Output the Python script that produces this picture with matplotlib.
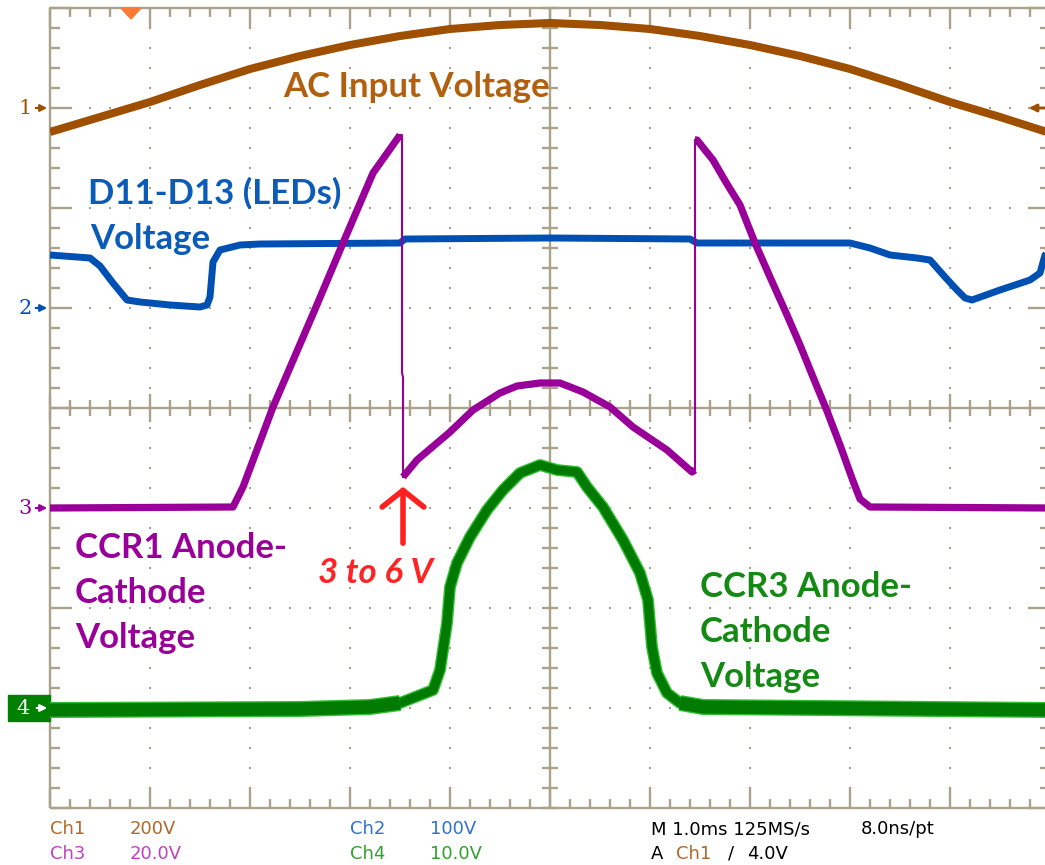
import numpy as np
import matplotlib
matplotlib.use("Agg")
import matplotlib.pyplot as plt
from matplotlib.patches import Rectangle, Polygon

# scope settings: 1.0 ms/div, 10 x 8 divisions
CH1_SCALE, CH1_POS = 200.0, 3.0   # V/div, ground marker in div
CH2_SCALE, CH2_POS = 100.0, 1.0
CH3_SCALE, CH3_POS = 20.0, -1.0
CH4_SCALE, CH4_POS = 10.0, -3.0

# Ch1 - AC input voltage (V)
ac_t = [0.0, 0.5, 1.0, 1.5, 2.0, 2.5, 3.0, 3.5, 4.0, 4.5, 5.0,
        5.5, 6.0, 6.5, 7.0, 7.5, 8.0, 8.5, 9.0, 9.5, 10.0]
ac_v = [-48, -18, 12, 46, 78, 104, 126, 144, 158, 166, 170,
        166, 158, 144, 126, 104, 78, 46, 12, -18, -50]

# Ch2 - LED string voltage (V)
led_t = [0.0, 0.4, 0.5, 0.63, 0.77, 0.9, 1.2, 1.5, 1.57, 1.6, 1.63, 1.7, 1.9,
         2.1, 3.5, 3.55, 5.0, 6.4, 6.47, 8.0, 8.2, 8.4, 8.67, 8.8, 8.95,
         9.07, 9.15, 9.22, 9.5, 9.8, 9.9, 9.95, 10.0]
led_v = [53, 50, 42, 25, 8, 6, 3, 1, 3, 11, 46, 58, 63,
         64, 65, 69, 70, 69, 65, 65, 60, 53, 50, 48, 31,
         18, 10, 8, 18, 28, 35, 53, 58]

# Ch3 - CCR1 anode-cathode voltage (V), split into its slow sections
rise_t = [0.0, 1.83, 1.93, 2.23, 2.66, 2.93, 3.23, 3.5]
rise_v = [0.0, 0.2, 4.2, 20.2, 40.2, 53.0, 67.0, 74.6]
drop_t = [3.5, 3.52, 3.52, 3.53, 3.53]
drop_v = [74.6, 74.6, 27.0, 26.2, 6.2]
arc_t = [3.53, 3.67, 4.0, 4.23, 4.5, 4.67, 4.9, 5.1,
         5.33, 5.6, 5.83, 6.17, 6.42, 6.45]
arc_v = [6.2, 9.6, 15.2, 19.6, 23.0, 24.4, 25.0, 25.0,
         23.2, 20.2, 16.2, 11.6, 7.2, 7.6]
fall_t = [6.45, 6.47, 6.63, 6.77, 6.9, 7.05, 7.2, 7.37, 7.5, 7.63,
          7.77, 7.9, 8.03, 8.1, 8.2, 10.0]
fall_v = [73.6, 73.6, 69.6, 64.8, 60.6, 53.0, 46.2, 38.6, 32.6, 26.2,
          19.4, 12.6, 5.4, 1.8, 0.2, 0.0]

# Ch4 - CCR3 anode-cathode voltage (V)
ccr3_t = [0.0, 2.5, 3.2, 3.5, 3.83, 3.9, 3.97, 4.0, 4.07, 4.2, 4.37, 4.53,
          4.7, 4.9, 5.07, 5.27, 5.37, 5.53, 5.73, 5.9, 5.98, 6.02, 6.07,
          6.17, 6.3, 6.53, 10.0]
ccr3_v = [-0.2, -0.1, 0.1, 0.5, 1.8, 3.8, 8.5, 12.1, 14.5, 17.1, 19.8, 21.8,
          23.5, 24.3, 23.8, 23.6, 22.1, 20.1, 16.8, 13.5, 10.8, 6.1, 3.5,
          1.5, 0.5, 0.1, -0.2]

BROWN = "#9e4f00"
BLUE = "#0050b4"
PURPLE = "#990099"
GREEN = "#008000"
GRID = "#aaa28a"

W, H = 1045, 865
fig = plt.figure(figsize=(W / 100, H / 100), dpi=100)
fig.patch.set_facecolor("white")
# screen: 10 div wide (right edge just outside the picture), 8 div tall
ax = fig.add_axes([50 / W, (H - 808) / H, 1000 / W, 800 / H])
ax.set_xlim(0, 10)
ax.set_ylim(-4, 4)
ax.axis("off")


def px(x, y):
    # picture pixel -> screen divisions (layout helper)
    return (x - 50) / 100.0, (408 - y) / 100.0


def ch3(v):
    return np.array(v) / CH3_SCALE + CH3_POS


# --- graticule ---
kw = dict(color=GRID, lw=1.7, zorder=1, clip_on=False, solid_capstyle="butt")
ax.plot([0, 10, 10, 0, 0], [-4, -4, 4, 4, -4], **kw)
ax.plot([0, 10], [0, 0], **kw)
ax.plot([5, 5], [-4, 4], **kw)
for k in range(51):
    x = k * 0.2
    big = k % 5 == 0
    L = 0.2 if big else 0.09
    ax.plot([x, x], [4, 4 - L], **kw)
    ax.plot([x, x], [-4, -4 + L], **kw)
    c = 0.14 if big else 0.08
    ax.plot([x, x], [-c, c], **kw)
for k in range(41):
    y = -4 + k * 0.2
    big = k % 5 == 0
    L = 0.22 if big else 0.1
    ax.plot([0, L], [y, y], **kw)
    ax.plot([10, 10 - L], [y, y], **kw)
    ax.plot([5 - 0.08, 5 + 0.08], [y, y], **kw)

dots_x, dots_y = [], []
for gx in [1, 2, 3, 4, 6, 7, 8, 9]:
    for k in range(1, 40):
        dots_x.append(gx)
        dots_y.append(-4 + k * 0.2)
for gy in [-3, -2, -1, 1, 2, 3]:
    for k in range(1, 50):
        dots_x.append(k * 0.2)
        dots_y.append(gy)
ax.plot(dots_x, dots_y, ls="none", marker="s", ms=1.6, mew=0,
        color="#a8a088", zorder=1)

# --- traces ---
ac_y = np.array(ac_v) / CH1_SCALE + CH1_POS
led_y = np.array(led_v) / CH2_SCALE + CH2_POS
c3_y = np.array(ccr3_v) / CH4_SCALE + CH4_POS

ax.plot(ac_t, ac_y, color=BROWN, lw=5.8, solid_capstyle="butt",
        solid_joinstyle="round", zorder=3)
ax.plot(led_t, led_y, color=BLUE, lw=5.0, solid_capstyle="butt", zorder=3)

# fast edges are faint/thin on the scope, slow parts are thick
ax.plot(drop_t, ch3(drop_v), color=PURPLE, lw=1.5, zorder=4)
ax.plot([arc_t[-1], fall_t[0]], ch3([arc_v[-1], fall_v[0]]), color=PURPLE,
        lw=1.5, zorder=4)
for tt, vv in [(rise_t, rise_v), (arc_t, arc_v), (fall_t, fall_v)]:
    ax.plot(tt, ch3(vv), color=PURPLE, lw=5.2, solid_capstyle="butt",
            solid_joinstyle="round", zorder=5)

# CCR3: noisy trace, wider band on the flat parts
c3_t = np.array(ccr3_t)
ax.plot(c3_t, c3_y, color="#2fbf2f", lw=8.5, solid_capstyle="butt",
        solid_joinstyle="round", zorder=3)
ax.plot(c3_t, c3_y, color="#007a00", lw=6.5, solid_capstyle="butt",
        solid_joinstyle="round", zorder=3)
for a, b in [(0, 4), (24, len(c3_t))]:
    ax.plot(c3_t[a:b], c3_y[a:b], color="#2fbf2f", lw=11.5,
            solid_capstyle="butt", zorder=3)
    ax.plot(c3_t[a:b], c3_y[a:b], color="#007a00", lw=9.5,
            solid_capstyle="butt", zorder=3)

# --- channel markers ---
mk = dict(fontsize=15, va="center", ha="center", family="DejaVu Serif",
          clip_on=False)
for lab, ypos, col in [("1", CH1_POS, BROWN), ("2", CH2_POS, BLUE),
                       ("3", CH3_POS, PURPLE)]:
    ax.text(-0.25, ypos, lab, color=col, **mk)
    ax.annotate("", xy=(0.0, ypos), xytext=(-0.17, ypos),
                arrowprops=dict(arrowstyle="-|>", color=col, lw=1.6,
                                mutation_scale=10), annotation_clip=False)
ax.add_patch(Rectangle((-0.42, CH4_POS - 0.13), 0.42, 0.26, color=GREEN,
                       clip_on=False, zorder=2))
ax.text(-0.27, CH4_POS, "4", color="white", **mk)
ax.annotate("", xy=(0.0, CH4_POS), xytext=(-0.16, CH4_POS),
            arrowprops=dict(arrowstyle="-|>", color="white", lw=1.6,
                            mutation_scale=10), annotation_clip=False)
# trigger position and level markers
ax.add_patch(Polygon([(0.71, 4.0), (0.91, 4.0), (0.81, 3.89)], closed=True,
                     color="#ff7a33", clip_on=False, zorder=5))
ax.annotate("", xy=(9.76, CH1_POS), xytext=(10.0, CH1_POS),
            arrowprops=dict(arrowstyle="-|>", color=BROWN, lw=2.0,
                            mutation_scale=11), annotation_clip=False)

# --- annotations ---
lbl = dict(fontsize=25, fontweight="bold", family=["Lato", "DejaVu Sans"],
           ha="left", va="baseline", zorder=6)
ax.text(*px(283, 97), "AC Input Voltage", color="#b0600e", **lbl)
ax.text(*px(88, 204), "D11-D13 (LEDs)", color="#0b5cb8", **lbl)
ax.text(*px(90, 249), "Voltage", color="#0b5cb8", **lbl)
for i, s in enumerate(["CCR1 Anode-", "Cathode", "Voltage"]):
    ax.text(*px(75, 558 + 45 * i), s, color=PURPLE, **lbl)
for i, s in enumerate(["CCR3 Anode-", "Cathode", "Voltage"]):
    ax.text(*px(700, 597 + 45 * i), s, color="#148a14", **lbl)
ax.text(*px(318, 583), "3 to 6 V", color="#ff2424", fontsize=25,
        fontweight="bold", fontstyle="italic", family=["Lato", "DejaVu Sans"],
        ha="left", va="baseline", zorder=6)
ax.annotate("", xy=px(403, 484), xytext=px(403, 546),
            arrowprops=dict(arrowstyle="->,head_length=0.6,head_width=0.75",
                            color="#ff2020", lw=4.0, mutation_scale=20))

# --- readout ---
ro = dict(fontsize=13, family="DejaVu Sans", va="center", ha="left")
C1, C2, C3, C4 = "#b0682a", "#3070d0", "#c040c0", "#30a030"
row1, row2 = 1 - 829 / H, 1 - 854 / H
fig.text(50 / W, row1, "Ch1", color=C1, **ro)
fig.text(130 / W, row1, "200V", color=C1, **ro)
fig.text(50 / W, row2, "Ch3", color=C3, **ro)
fig.text(130 / W, row2, "20.0V", color=C3, **ro)
fig.text(350 / W, row1, "Ch2", color=C2, **ro)
fig.text(430 / W, row1, "100V", color=C2, **ro)
fig.text(350 / W, row2, "Ch4", color=C4, **ro)
fig.text(430 / W, row2, "10.0V", color=C4, **ro)
fig.text(651 / W, row1, "M 1.0ms 125MS/s", color="black", **ro)
fig.text(861 / W, row1, "8.0ns/pt", color="black", **ro)
fig.text(651 / W, row2, "A", color="black", **ro)
fig.text(676 / W, row2, "Ch1", color=C1, **ro)
fig.text(728 / W, row2, "/", color="black", **ro)
fig.text(747 / W, row2, "4.0V", color="black", **ro)

fig.savefig("out.png", dpi=100, facecolor="white")
